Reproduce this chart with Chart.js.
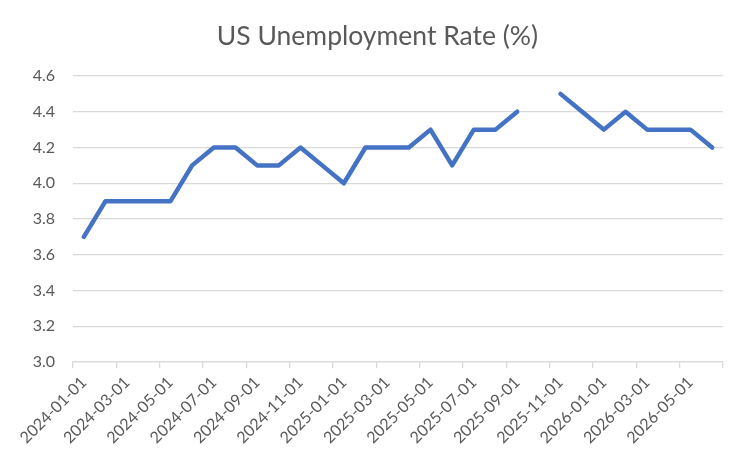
<!DOCTYPE html>
<html>
<head>
<meta charset="utf-8">
<script src="https://cdn.jsdelivr.net/npm/chart.js@4/dist/chart.umd.min.js"></script>
<style>
  html, body { margin: 0; padding: 0; background: #ffffff; }
  #wrap { width: 750px; height: 465px; }
</style>
</head>
<body>
<div id="wrap"><canvas id="c"></canvas></div>
<script>
const chartTitle = "US Unemployment Rate (%)";
const months = [
  "2024-01-01","2024-02-01","2024-03-01","2024-04-01","2024-05-01","2024-06-01",
  "2024-07-01","2024-08-01","2024-09-01","2024-10-01","2024-11-01","2024-12-01",
  "2025-01-01","2025-02-01","2025-03-01","2025-04-01","2025-05-01","2025-06-01",
  "2025-07-01","2025-08-01","2025-09-01","2025-10-01","2025-11-01","2025-12-01",
  "2026-01-01","2026-02-01","2026-03-01","2026-04-01","2026-05-01","2026-06-01"
];
const unemploymentRate = [
  3.7, 3.9, 3.9, 3.9, 3.9, 4.1,
  4.2, 4.2, 4.1, 4.1, 4.2, 4.1,
  4.0, 4.2, 4.2, 4.2, 4.3, 4.1,
  4.3, 4.3, 4.4, null, 4.5, 4.4,
  4.3, 4.4, 4.3, 4.3, 4.3, 4.2
];
const yMin = 3.0, yMax = 4.6, yStep = 0.2;

const textColor = "#595959";
const gridColor = "#d9d9d9";
const fontFamily = "Lato, 'Open Sans', sans-serif";

new Chart(document.getElementById("c"), {
  type: "line",
  data: {
    labels: months,
    datasets: [{
      label: chartTitle,
      data: unemploymentRate,
      borderColor: "#4472C4",
      backgroundColor: "#4472C4",
      borderWidth: 4.5,
      borderCapStyle: "round",
      borderJoinStyle: "round",
      pointRadius: 0,
      pointHoverRadius: 0,
      tension: 0,
      spanGaps: false
    }]
  },
  options: {
    responsive: true,
    maintainAspectRatio: false,
    animation: false,
    layout: { padding: { left: 32, right: 27, top: 0, bottom: 0 } },
    plugins: {
      legend: { display: false },
      tooltip: { enabled: false },
      title: {
        display: true,
        text: chartTitle,
        color: textColor,
        font: { family: fontFamily, size: 26.5, weight: "normal" },
        padding: { top: 21, bottom: 23.2 }
      }
    },
    scales: {
      x: {
        type: "category",
        offset: true,
        afterFit: (s) => { s.paddingLeft = 0; s.paddingRight = 0; s.height = 103; },
        grid: {
          offset: true,
          drawOnChartArea: false,
          drawTicks: true,
          tickLength: 6,
          lineWidth: 1.3,
          color: (ctx) => (ctx.index === undefined || ctx.index % 2 === 0) ? gridColor : "rgba(0,0,0,0)"
        },
        border: { display: true, color: gridColor, width: 1.3 },
        ticks: {
          autoSkip: false,
          minRotation: 45,
          maxRotation: 45,
          color: textColor,
          font: { family: fontFamily, size: 16 },
          padding: 5,
          callback: function (value, index) {
            return index % 2 === 0 ? this.getLabelForValue(value) : "";
          }
        }
      },
      y: {
        min: yMin,
        max: yMax,
        afterFit: (s) => { s.width = 41; },
        grid: {
          color: gridColor,
          lineWidth: 1.3,
          drawTicks: false
        },
        border: { display: false },
        ticks: {
          stepSize: yStep,
          color: textColor,
          font: { family: fontFamily, size: 16 },
          padding: 18,
          callback: (v) => Number(v).toFixed(1)
        }
      }
    }
  }
});
</script>
</body>
</html>
